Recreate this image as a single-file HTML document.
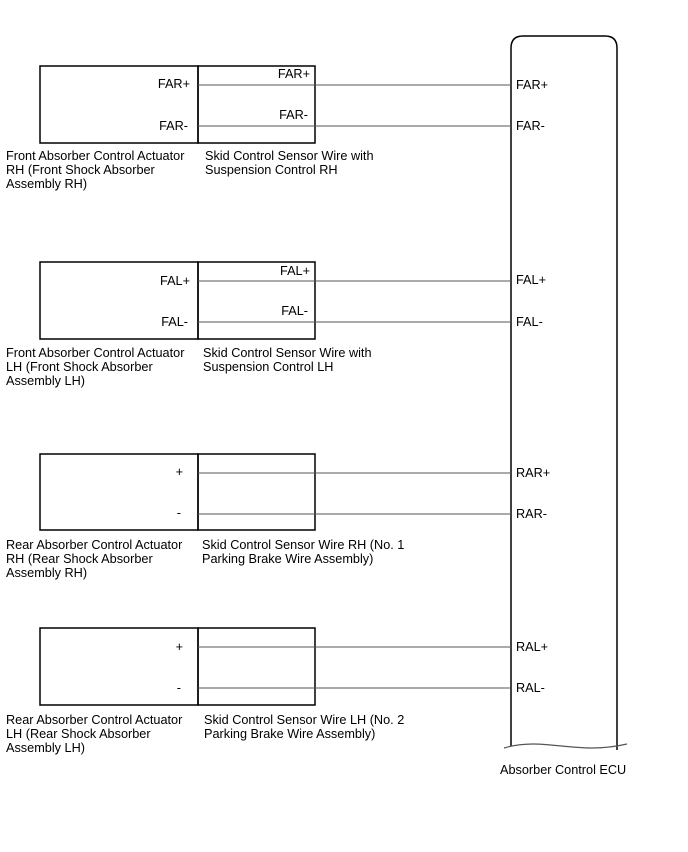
<!DOCTYPE html>
<html><head><style>body{margin:0;background:#fff}svg{display:block}text{font-family:"Liberation Sans",sans-serif;font-size:12.7px;fill:#000}</style></head><body>
<svg width="688" height="852" xmlns="http://www.w3.org/2000/svg">
<g fill="none" stroke="#000" stroke-width="1.5">
<path d="M511,746 V48 Q511,36 523,36 H605 Q617,36 617,48 V750"/>
</g>
<path d="M504,748 C545,736 575,756 627,744" fill="none" stroke="#555" stroke-width="1.2"/>
<text x="500" y="774">Absorber Control ECU</text>

<g>
<rect x="40" y="66" width="158" height="77" fill="none" stroke="#000" stroke-width="1.5"/>
<rect x="198" y="66" width="117" height="77" fill="none" stroke="#000" stroke-width="1.5"/>
<line x1="198" y1="85" x2="511" y2="85" stroke="#555"/>
<line x1="198" y1="126" x2="511" y2="126" stroke="#555"/>
<text x="190" y="88" text-anchor="end">FAR+</text>
<text x="188" y="130" text-anchor="end">FAR-</text>
<text x="310" y="78" text-anchor="end">FAR+</text>
<text x="308" y="119" text-anchor="end">FAR-</text>
<text x="516" y="89">FAR+</text>
<text x="516" y="130">FAR-</text>
<text x="6" y="160">Front Absorber Control Actuator</text>
<text x="6" y="174">RH (Front Shock Absorber</text>
<text x="6" y="188">Assembly RH)</text>
<text x="205" y="160">Skid Control Sensor Wire with</text>
<text x="205" y="174">Suspension Control RH</text>
</g>

<g>
<rect x="40" y="262" width="158" height="77" fill="none" stroke="#000" stroke-width="1.5"/>
<rect x="198" y="262" width="117" height="77" fill="none" stroke="#000" stroke-width="1.5"/>
<line x1="198" y1="281" x2="511" y2="281" stroke="#555"/>
<line x1="198" y1="322" x2="511" y2="322" stroke="#555"/>
<text x="190" y="285" text-anchor="end">FAL+</text>
<text x="188" y="326" text-anchor="end">FAL-</text>
<text x="310" y="275" text-anchor="end">FAL+</text>
<text x="308" y="315" text-anchor="end">FAL-</text>
<text x="516" y="284">FAL+</text>
<text x="516" y="326">FAL-</text>
<text x="6" y="357">Front Absorber Control Actuator</text>
<text x="6" y="371">LH (Front Shock Absorber</text>
<text x="6" y="385">Assembly LH)</text>
<text x="203" y="357">Skid Control Sensor Wire with</text>
<text x="203" y="371">Suspension Control LH</text>
</g>

<g>
<rect x="40" y="454" width="158" height="76" fill="none" stroke="#000" stroke-width="1.5"/>
<rect x="198" y="454" width="117" height="76" fill="none" stroke="#000" stroke-width="1.5"/>
<line x1="198" y1="473" x2="511" y2="473" stroke="#555"/>
<line x1="198" y1="514" x2="511" y2="514" stroke="#555"/>
<text x="183" y="476" text-anchor="end">+</text>
<text x="181" y="517" text-anchor="end">-</text>
<text x="516" y="477">RAR+</text>
<text x="516" y="518">RAR-</text>
<text x="6" y="549">Rear Absorber Control Actuator</text>
<text x="6" y="563">RH (Rear Shock Absorber</text>
<text x="6" y="577">Assembly RH)</text>
<text x="202" y="549">Skid Control Sensor Wire RH (No. 1</text>
<text x="202" y="563">Parking Brake Wire Assembly)</text>
</g>

<g>
<rect x="40" y="628" width="158" height="77" fill="none" stroke="#000" stroke-width="1.5"/>
<rect x="198" y="628" width="117" height="77" fill="none" stroke="#000" stroke-width="1.5"/>
<line x1="198" y1="647" x2="511" y2="647" stroke="#555"/>
<line x1="198" y1="688" x2="511" y2="688" stroke="#555"/>
<text x="183" y="651" text-anchor="end">+</text>
<text x="181" y="692" text-anchor="end">-</text>
<text x="516" y="651">RAL+</text>
<text x="516" y="692">RAL-</text>
<text x="6" y="724">Rear Absorber Control Actuator</text>
<text x="6" y="738">LH (Rear Shock Absorber</text>
<text x="6" y="752">Assembly LH)</text>
<text x="204" y="724">Skid Control Sensor Wire LH (No. 2</text>
<text x="204" y="738">Parking Brake Wire Assembly)</text>
</g>
</svg>
</body></html>
